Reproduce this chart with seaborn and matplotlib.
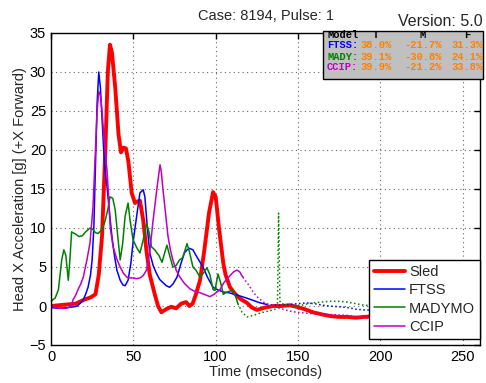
import matplotlib
matplotlib.use("Agg")
import matplotlib.pyplot as plt
import seaborn as sns
from matplotlib.patches import Rectangle

# ---------------- data ----------------
sled_t = [0, 5, 10, 15, 20, 24, 27, 29, 31, 33, 34.5, 35.8, 37, 39, 41, 42.5, 44, 45.5, 47, 49, 51,
          52.5, 54, 56, 58, 60, 63, 65, 67, 70, 73, 76, 79, 82, 84, 86, 88, 90.5, 93, 96, 98.4, 100,
          102, 104.6, 106, 108.7, 112, 115, 119, 122, 125, 130, 135, 140, 145, 149, 154, 159, 165,
          170, 175, 180, 185, 190, 200, 210, 220, 240, 260]
sled_v = [0, 0.1, 0.2, 0.3, 0.8, 1.1, 1.5, 4, 9, 20, 30, 33.5, 32.5, 28, 22, 19.7, 20.3, 20.2, 18.5,
          14.5, 13.2, 13.4, 13.5, 11, 7, 4, 1.5, 0, -0.8, -0.4, -0.1, -0.3, 0.3, 0.5, 0, 0.3, 1.5, 3.3,
          7, 12, 14.6, 14, 10, 5.5, 4, 2.4, 1.5, 0.9, 0.4, -0.2, -0.5, -0.2, 0, 0, 0.1, -0.1, -0.4,
          -0.8, -1.1, -1.3, -1.4, -1.4, -1.5, -1.4, -1.3, -1.3, -1.4, -1.4, -1.4]

ftss_t = [0, 5, 10, 14, 16, 18, 19.6, 21, 22.5, 24, 25, 26, 27, 28, 29, 30, 31, 32, 33, 34, 35.5, 37,
          38.5, 40, 42, 43.7, 45, 46.8, 48.5, 49.8, 52, 54, 56, 57, 58.5, 60, 62, 64, 66, 68, 70, 72,
          74, 76.5, 79, 81, 82.6, 84, 86.2, 88, 90, 92.3, 95, 98.4, 101, 104.6, 108, 113, 116, 119,
          123, 127, 131]
ftss_v = [-0.2, -0.3, -0.2, -0.1, 0, 0.4, 0.8, 1.5, 2.4, 4, 6, 10, 18, 26, 30, 28, 24, 20, 17, 15.3,
          12, 8.9, 6.5, 4.6, 3.3, 2.7, 2.6, 3.3, 5.5, 8.1, 11.5, 14.5, 14.9, 14, 10, 6.8, 5.2, 4.2, 3.4,
          3, 2.6, 2.4, 2.8, 3.7, 5.5, 6.8, 7.2, 7.4, 7.2, 6.5, 5.8, 5, 3.7, 2.4, 2.1, 1.8, 1.7, 1.4,
          1.2, 1, 0.7, 0.4, 0.2]
ftss_tail_t = [131, 135, 139, 145, 150, 155, 160, 165, 169, 175, 180, 185, 190, 200, 215, 230, 245, 260]
ftss_tail_v = [0.2, 0.1, 0.1, 0.2, 0.3, 0.4, 0.3, 0.1, 0, -0.1, -0.2, -0.4, -0.5, -0.6, -0.7, -0.8, -0.8, -0.8]

mady_t = [0, 1, 2.5, 4.5, 6.5, 7.8, 9, 10.5, 11.5, 12.5, 15, 17, 19, 21, 23.7, 25.5, 27, 28.6, 30,
          31.6, 33, 34.6, 35.8, 37.5, 39, 40.5, 42, 43.5, 45, 46.8, 48, 49.8, 52, 54, 56, 58, 59.5, 61,
          63, 64, 65.5, 67.4, 69, 70.4, 72, 74, 76, 78, 80, 82.6, 84, 86.2, 88, 90.5, 92.5, 94.7, 96.5,
          98.4, 99.6, 101.4, 103, 104.6, 107, 110, 112, 113.5]
mady_v = [0.5, 0.8, 1, 2.1, 5.9, 7.2, 6.5, 3.3, 6, 9.5, 9.2, 8.9, 9, 9.5, 10, 9.8, 9.4, 9.3, 9.6,
          10.1, 11, 12.5, 14, 13.8, 12.3, 9, 5.9, 8, 11.5, 13.2, 11, 8.5, 7.5, 6.8, 8.5, 10.6, 9.5, 7.6,
          7.2, 6.9, 6.5, 5.6, 6.8, 7.8, 6.5, 5, 5.2, 5.9, 6.2, 8, 7, 5, 4.6, 3.7, 4.2, 4.9, 4, 2.1, 2,
          4.1, 3, 1.5, 1.8, 2, 1.3, 0.3]
mady_tail_t = [113.5, 116, 119, 123, 127, 131, 135, 137.5, 138.2, 139, 140, 144, 149, 154, 159, 164,
               169, 175, 180, 185, 190, 200, 215, 230, 245, 260]
mady_tail_v = [0.3, -0.8, -1.4, -1.2, -0.9, -0.7, -0.5, -0.3, 11.9, 0.6, 0.3, 0.1, -0.1, 0.2, 0.4,
               0.5, 0.6, 0.6, 0.5, 0.3, 0.1, 0, -0.2, -0.2, -0.3, -0.3]

ccip_t = [0, 3, 5.5, 9, 12, 13.4, 15, 16.4, 18, 19.6, 21.8, 23.7, 25.5, 27, 28, 29, 30, 31, 32, 33,
          34, 35, 36, 37.7, 40, 42, 44, 46, 48, 50, 52, 54, 56, 58, 60, 62, 64, 65, 66.2, 67, 68, 69.5,
          71, 72.5, 74, 76, 78, 81, 84.4, 87, 90.5, 93, 96.5, 99, 102.6, 105, 108.7, 111, 113, 114.5,
          116.5]
ccip_v = [0, -0.2, -0.3, -0.3, -0.1, 0.8, 1.4, 2.1, 2.8, 3.7, 5.9, 8.1, 12.7, 20, 25, 27.5, 27, 25,
          22, 19.5, 17.4, 14, 10, 7.6, 6, 5, 4.2, 3.7, 3.6, 3.6, 3.5, 3.6, 3.9, 4.6, 7, 11, 14.5, 16.2,
          18.1, 17.2, 14.9, 12, 9, 7.2, 5.9, 4.6, 3.8, 2.9, 2.2, 1.9, 1.7, 1.5, 1.2, 1.5, 2.1, 3, 3.9,
          4.4, 4.6, 4.4, 3.7]
ccip_tail_t = [116.5, 120, 123, 126, 129, 134, 139, 144, 149, 154, 159, 170, 180, 189.6, 200, 220, 240, 260]
ccip_tail_v = [3.7, 2.7, 1.7, 1.0, 0.5, 0, -0.3, -0.6, -0.8, -0.9, -1, -1.1, -1.2, -1.5, -1.6, -1.6, -1.6, -1.6]

x_ticks = [0, 50, 100, 150, 200, 250]
y_ticks = [-5, 0, 5, 10, 15, 20, 25, 30, 35]

table_header = ["Model", "T", "M", "F"]
table_models = ["FTSS:", "MADY:", "CCIP:"]
table_T = ["38.0%", "39.1%", "39.9%"]
table_M = ["-21.7%", "-30.8%", "-21.2%"]
table_F = ["31.3%", "24.1%", "33.8%"]

# ---------------- style ----------------
sns.set_style("white")
plt.rcParams["font.family"] = ["Liberation Sans", "DejaVu Sans"]
plt.rcParams["xtick.direction"] = "in"
plt.rcParams["ytick.direction"] = "in"

RED, BLUE, GREEN, MAG = "#ff0000", "#0000ff", "#008000", "#c000c0"
ORANGE = "#ff7f00"

W, H = 486, 383
fig = plt.figure(figsize=(W / 100, H / 100), dpi=100)
ax = fig.add_axes([51 / W, 1 - 345 / H, (480 - 51) / W, (345 - 33) / H])

sns.lineplot(x=sled_t, y=sled_v, ax=ax, color=RED, linewidth=2.8, label="Sled")
sns.lineplot(x=ftss_t, y=ftss_v, ax=ax, color=BLUE, linewidth=1.1, label="FTSS")
sns.lineplot(x=mady_t, y=mady_v, ax=ax, color=GREEN, linewidth=1.1, label="MADYMO")
sns.lineplot(x=ccip_t, y=ccip_v, ax=ax, color=MAG, linewidth=1.1, label="CCIP")
sns.lineplot(x=ftss_tail_t, y=ftss_tail_v, ax=ax, color=BLUE, linewidth=1.1, linestyle=":", legend=False)
sns.lineplot(x=mady_tail_t, y=mady_tail_v, ax=ax, color=GREEN, linewidth=1.1, linestyle=":", legend=False)
sns.lineplot(x=ccip_tail_t, y=ccip_tail_v, ax=ax, color=MAG, linewidth=1.1, linestyle=":", legend=False)

ax.set_xlim(0, 260.5)
ax.set_ylim(-5, 35)
ax.set_xticks(x_ticks)
ax.set_yticks(y_ticks)
ax.tick_params(axis="both", labelsize=10.5, length=4, width=1, top=True, right=True, colors="black")
ax.grid(True, linestyle=(0, (1, 3)), color="0.4", linewidth=0.8)
for s in ax.spines.values():
    s.set_visible(True)
    s.set_color("black")
    s.set_linewidth(1.0)

ax.set_xlabel("Time (mseconds)", fontsize=10.5, labelpad=1)
ax.set_ylabel("Head X Acceleration [g] (+X Forward)", fontsize=10.5, labelpad=2)
ax.set_title("Case: 8194, Pulse: 1", fontsize=10.5, pad=9)

leg = ax.legend(loc="lower right", bbox_to_anchor=(1.0, 0.019), fontsize=10.5, frameon=True,
                fancybox=False, framealpha=1, edgecolor="black", borderaxespad=0.0,
                handlelength=2.1, labelspacing=0.3, handletextpad=0.3, borderpad=0.35)
leg.get_frame().set_linewidth(1.0)

fig.text(483 / W, 1 - 21 / H, "Version: 5.0", ha="right", va="center", fontsize=11.5)

# table box
x0, y0, x1, y1 = 323, 31, 483, 79
fig.patches.append(Rectangle((x0 / W, 1 - y1 / H), (x1 - x0) / W, (y1 - y0) / H,
                             transform=fig.transFigure, facecolor="#c0c0c0",
                             edgecolor="black", linewidth=1.0, zorder=5))
mono = dict(family=["Liberation Mono", "DejaVu Sans Mono"], fontweight="bold", fontsize=7.5, zorder=6)
col_x = [327, 376, 423, 467]
row_y = [35, 45.5, 56.5, 67]
fig.text(col_x[0] / W, 1 - row_y[0] / H, table_header[0], ha="left", va="center", color="black", **mono)
for j in range(1, 4):
    fig.text(col_x[j] / W, 1 - row_y[0] / H, table_header[j], ha="center", va="center", color="black", **mono)
cols = [BLUE, GREEN, MAG]
for i in range(3):
    yy = 1 - row_y[i + 1] / H
    fig.text(col_x[0] / W, yy, table_models[i], ha="left", va="center", color=cols[i], **mono)
    fig.text(col_x[1] / W, yy, table_T[i], ha="center", va="center", color=ORANGE, **mono)
    fig.text(col_x[2] / W, yy, table_M[i], ha="center", va="center", color=ORANGE, **mono)
    fig.text(col_x[3] / W, yy, table_F[i], ha="center", va="center", color=ORANGE, **mono)

fig.savefig("out.png", dpi=100)
